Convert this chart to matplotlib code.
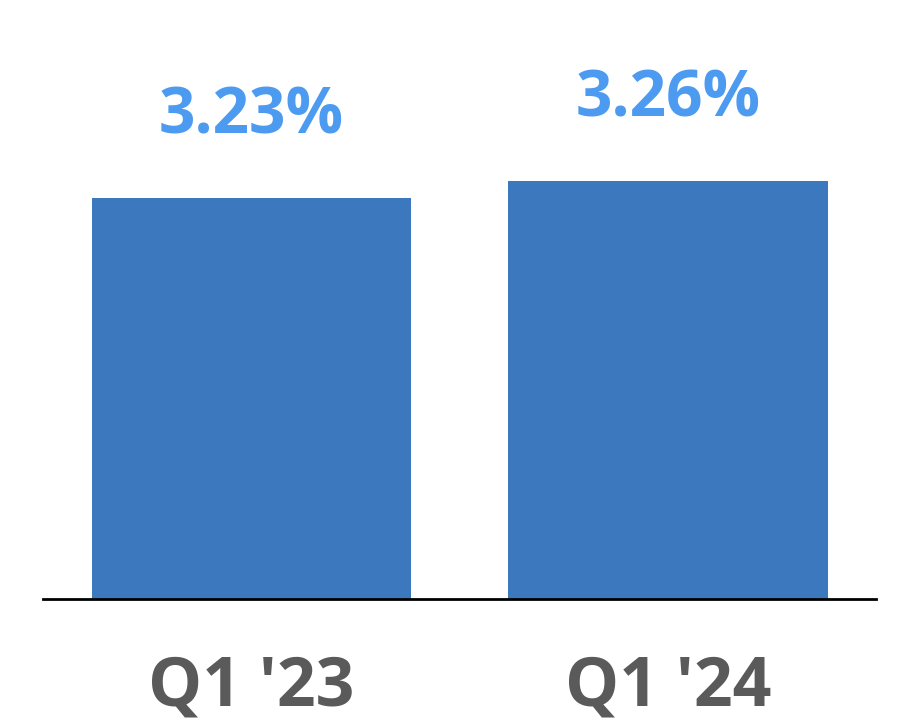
import matplotlib
matplotlib.use("Agg")
import matplotlib.pyplot as plt

# values
quarters = ["Q1 '23", "Q1 '24"]
rates = [3.23, 3.26]
labels = ["3.23%", "3.26%"]

fig = plt.figure(figsize=(9.01, 7.25), dpi=100)
ax = fig.add_axes([0.0477, 0.1738, 0.9246, 0.8262])

x = range(len(quarters))
bars = ax.bar(x, rates, width=0.767, color="#3c78be", zorder=2)

ax.set_ylim(2.522, 3.579)
ax.set_xlim(-0.5, 1.5)

for rect, lab in zip(bars, labels):
    ax.annotate(lab, (rect.get_x() + rect.get_width() / 2, rect.get_height()),
                xytext=(0, 46), textcoords="offset points",
                ha="center", va="baseline", fontsize=46, fontweight="bold",
                family="Open Sans", color="#4d9bf0")

ax.set_xticks(list(x))
ax.set_xticklabels(quarters, fontsize=49, fontweight="bold", family="Open Sans",
                   color="#5a5a5a")
ax.tick_params(axis="x", length=0, pad=39)
ax.set_yticks([])

for side in ["top", "right", "left"]:
    ax.spines[side].set_visible(False)
ax.spines["bottom"].set_linewidth(2)
ax.spines["bottom"].set_color("black")

fig.savefig("out.png", dpi=100)
